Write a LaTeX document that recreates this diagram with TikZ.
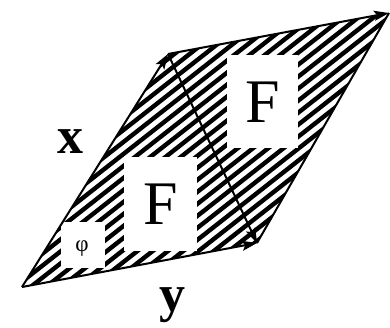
\documentclass[tikz,border=0pt]{standalone}
\usepackage{fontspec}
\setmainfont{Liberation Serif}
\usetikzlibrary{arrows.meta}
\begin{document}
\begin{tikzpicture}[x=1pt,y=1pt,
  vec/.style={line width=2pt,-{Stealth[length=15pt,width=10pt,inset=3pt]}},
  edge/.style={line width=2pt},
  hatch/.style={line width=4.4pt,black},
  whitebox/.style={fill=white,draw=none},
  bigF/.style={font=\fontsize{62}{62}\selectfont},
  vlabel/.style={font=\fontsize{52}{52}\selectfont\bfseries}]
\useasboundingbox (0,0) rectangle (390,327);
\coordinate (O) at (22,40);
\coordinate (A) at (168,273);
\coordinate (B) at (257,84);
\coordinate (C) at (389,314);
\begin{scope}
  \clip (O) -- (B) -- (C) -- (A) -- cycle;
  \foreach \c in {-320,-308,...,340}
    \draw[hatch] (0,\c) -- (420,\c+330);
\end{scope}
\fill[whitebox] (124,76) rectangle (197,170);
\fill[whitebox] (227,179) rectangle (298,272);
\fill[whitebox] (61,59) rectangle (105,105);
\node[bigF] (F1) at (160.5,123) {F};
\node[bigF] (F2) at (262.5,225) {F};
\node[font=\fontsize{23}{23}\selectfont] (phi) at (82,78) {φ};
\draw[edge] (B) -- (C);
\draw[vec] (O) -- (A);
\draw[vec] (O) -- (B);
\draw[vec] (A) -- (B);
\draw[vec] (A) -- (C);
\node[vlabel,anchor=base] (xl) at (70,174) {x};
\node[vlabel,anchor=base] (yl) at (172,16) {y};
\end{tikzpicture}
\end{document}
